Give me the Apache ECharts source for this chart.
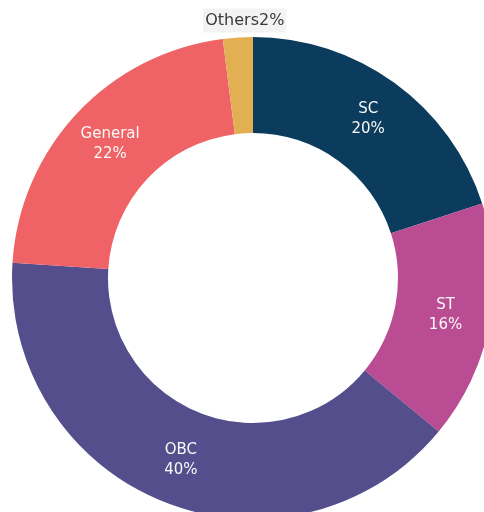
<!DOCTYPE html>
<html>
<head>
<meta charset="utf-8">
<style>
  html, body { margin: 0; padding: 0; background: #ffffff; }
  #chart { width: 484px; height: 512px; }
</style>
<script src="https://cdn.jsdelivr.net/npm/echarts@6/dist/echarts.min.js"></script>
</head>
<body>
<div id="chart"></div>
<script>
const categories = ["SC", "ST", "OBC", "General", "Others"];
const shares = [20, 16, 40, 22, 2];
const sliceColors = ["#0b3c5d", "#b94c93", "#544e8c", "#ef6366", "#e2b052"];

const chart = echarts.init(document.getElementById('chart'), null, { renderer: 'canvas' });

const data = categories.map((name, i) => {
  const item = { name: name, value: shares[i], itemStyle: { color: sliceColors[i] } };
  if (name === 'Others') {
    item.label = {
      position: 'outside',
      formatter: '{b}{c}%',
      color: '#3a3a3a',
      fontFamily: 'DejaVu Sans',
      fontSize: 16,
      backgroundColor: '#f3f3f3',
      padding: [2, 2]
    };
    item.labelLine = { show: false, length: 17, length2: 0 };
  }
  return item;
});

chart.setOption({
  backgroundColor: '#ffffff',
  animation: false,
  series: [{
    type: 'pie',
    center: [253, 278],
    radius: [145, 241],
    startAngle: 90,
    clockwise: true,
    avoidLabelOverlap: false,
    data: data,
    label: {
      show: true,
      position: 'inside',
      formatter: '{b}\n{c}%',
      color: '#f8f8f8',
      fontFamily: 'DejaVu Sans',
      fontSize: 15,
      lineHeight: 20
    },
    labelLayout: function (params) {
      if (params.dataIndex === 4) {
        return { align: 'center', dx: 13 };
      }
      return {};
    },
    emphasis: { disabled: true }
  }]
});
</script>
</body>
</html>
